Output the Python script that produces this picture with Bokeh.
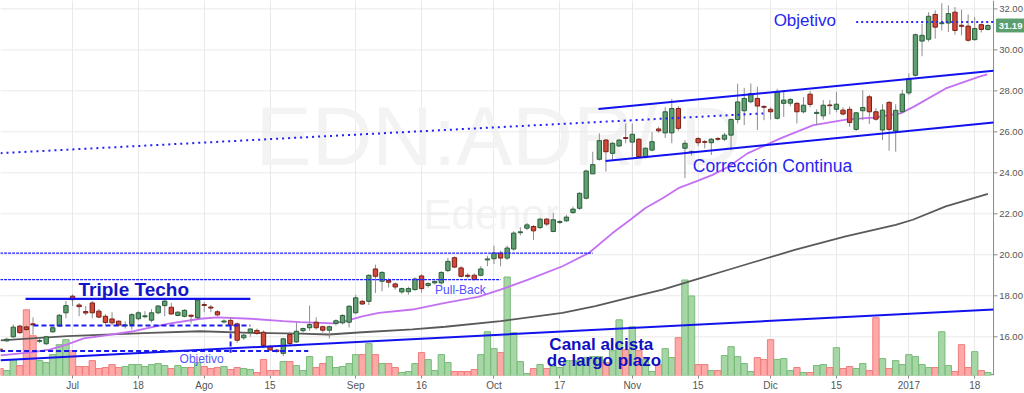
import pandas as pd
from bokeh.plotting import figure
from bokeh.models import Range1d, FixedTicker, Label, ColumnDataSource
from bokeh.core.properties import value
from bokeh.embed import file_html
from bokeh.resources import INLINE

# ---------------- data ----------------
holidays = ["2016-07-04", "2016-09-05", "2016-11-24", "2016-12-26", "2017-01-02", "2017-01-16"]
dates = [d.strftime("%Y-%m-%d") for d in pd.bdate_range("2016-06-16", "2017-01-20")
         if d.strftime("%Y-%m-%d") not in holidays]

opens = [15.40, 15.80, 16.00, 16.52, 16.48, 16.63, 15.78, 15.66, 16.24, 16.52,
         17.17, 17.98, 17.55, 17.23, 17.65, 17.25, 17.00, 16.87, 16.76, 16.53,
         16.60, 16.88, 16.98, 16.81, 17.17, 17.52, 17.44, 17.04, 17.00, 17.05,
         16.93, 17.57, 17.45, 17.22, 16.72, 16.80, 16.63, 15.95, 16.20, 16.31,
         16.22, 15.51, 15.35, 15.19, 16.11, 15.75, 16.30, 16.44, 16.71, 16.49,
         16.32, 16.65, 16.68, 16.71, 17.17, 17.73, 17.73, 19.31, 18.71, 18.75,
         18.58, 18.19, 18.20, 18.30, 18.97, 18.50, 18.63, 18.63, 19.23, 19.86,
         19.36, 19.00, 19.00, 19.00, 19.75, 19.81, 20.09, 19.84, 20.28, 21.08,
         21.30, 21.38, 21.33, 21.74, 21.14, 21.58, 21.66, 22.06, 22.27, 22.76,
         23.95, 24.66, 25.60, 24.95, 25.31, 25.72, 25.50, 25.64, 24.76, 25.11,
         26.14, 25.95, 25.95, 27.14, 25.20, 25.00, 25.67, 25.52, 25.47, 25.67,
         25.64, 25.84, 26.60, 27.03, 27.47, 27.63, 27.24, 27.10, 26.66, 27.39,
         27.40, 27.39, 26.98, 27.84, 26.90, 26.78, 27.31, 27.10, 27.06, 27.10,
         26.12, 27.03, 27.71, 26.98, 26.09, 27.44, 26.04, 26.98, 27.90, 28.76,
         30.43, 30.52, 31.73, 31.28, 31.31, 31.84, 31.20, 31.16, 30.50, 31.23,
         31.00]
highs = [15.45, 15.95, 16.60, 16.58, 16.55, 16.95, 15.90, 16.05, 16.50, 17.10,
         17.75, 18.07, 17.65, 17.50, 17.75, 17.35, 17.10, 17.20, 16.80, 16.75,
         17.15, 17.25, 17.25, 17.35, 17.55, 17.85, 17.65, 17.25, 17.35, 17.10,
         17.85, 17.70, 17.55, 17.30, 16.85, 16.95, 16.70, 16.15, 16.40, 16.40,
         16.30, 15.60, 15.40, 15.95, 16.25, 16.68, 16.45, 17.52, 16.95, 16.55,
         16.55, 16.85, 17.10, 17.55, 18.05, 17.80, 19.05, 19.52, 19.20, 18.85,
         18.65, 18.40, 18.45, 18.90, 19.05, 18.65, 18.75, 19.20, 19.85, 19.92,
         19.45, 19.10, 19.10, 19.45, 19.95, 20.44, 20.20, 20.45, 21.15, 21.35,
         21.55, 21.45, 21.80, 21.80, 22.05, 21.70, 21.95, 22.35, 23.05, 24.15,
         25.03, 25.93, 25.65, 25.50, 25.65, 26.41, 26.41, 25.70, 25.25, 26.00,
         26.25, 27.20, 27.60, 27.25, 25.60, 25.10, 25.75, 25.60, 25.70, 25.75,
         25.95, 26.65, 28.35, 28.15, 28.36, 28.20, 27.30, 27.20, 28.10, 28.03,
         27.65, 27.45, 27.70, 28.00, 27.10, 27.55, 27.55, 27.95, 27.20, 27.25,
         26.95, 28.03, 27.80, 27.15, 27.35, 27.50, 27.35, 28.05, 28.85, 30.80,
         31.28, 31.84, 31.93, 32.28, 32.17, 32.09, 31.96, 31.73, 31.60, 31.30,
         31.25]
lows = [15.30, 15.75, 15.95, 16.15, 16.30, 16.10, 15.70, 15.60, 16.20, 16.50,
        16.90, 17.50, 17.00, 17.05, 16.90, 16.90, 16.60, 16.55, 16.50, 16.40,
        16.35, 16.80, 16.90, 16.70, 17.10, 17.00, 17.10, 17.00, 16.95, 16.65,
        16.85, 17.20, 17.20, 17.00, 16.65, 16.40, 15.71, 15.85, 16.00, 16.10,
        15.45, 15.30, 15.22, 15.05, 15.55, 15.70, 16.20, 16.30, 16.35, 16.20,
        15.92, 16.55, 16.60, 16.45, 17.10, 17.55, 17.55, 18.14, 18.22, 18.40,
        18.30, 18.10, 18.05, 18.25, 18.15, 18.40, 18.55, 18.55, 19.15, 19.35,
        18.90, 18.85, 18.75, 18.95, 19.45, 19.55, 19.44, 19.75, 20.20, 20.95,
        21.20, 20.73, 21.25, 21.40, 21.10, 21.50, 21.60, 22.00, 22.20, 22.70,
        23.98, 24.60, 24.06, 24.65, 25.25, 25.44, 24.78, 24.75, 24.70, 25.05,
        25.95, 25.70, 25.44, 26.05, 23.74, 24.85, 25.30, 25.20, 24.87, 25.55,
        25.55, 25.10, 26.41, 26.33, 27.39, 26.09, 26.57, 26.60, 26.60, 26.73,
        27.25, 26.41, 26.90, 27.20, 26.33, 26.60, 26.85, 26.95, 26.80, 26.25,
        26.05, 26.57, 26.38, 26.55, 25.60, 25.08, 25.03, 26.90, 27.80, 28.70,
        29.69, 30.40, 30.55, 30.95, 30.87, 30.74, 30.71, 30.40, 30.45, 30.85,
        30.95]
closes = [15.33, 15.88, 16.47, 16.20, 16.35, 16.58, 15.82, 16.00, 16.44, 17.05,
          17.52, 17.81, 17.47, 17.16, 17.17, 16.96, 16.70, 16.68, 16.57, 16.58,
          17.08, 17.17, 17.02, 17.17, 17.50, 17.74, 17.11, 17.20, 17.29, 17.00,
          17.79, 17.53, 17.40, 17.07, 16.77, 16.56, 15.83, 16.08, 16.38, 16.16,
          15.58, 15.35, 15.28, 15.90, 15.67, 16.27, 16.40, 16.60, 16.44, 16.32,
          16.49, 16.78, 17.04, 17.49, 17.90, 17.60, 19.00, 18.95, 19.14, 18.66,
          18.43, 18.35, 18.35, 18.82, 18.35, 18.60, 18.70, 19.14, 19.68, 19.40,
          18.95, 18.95, 18.79, 19.31, 19.80, 20.09, 19.84, 20.33, 21.06, 21.12,
          21.46, 21.17, 21.74, 21.50, 21.71, 21.62, 21.84, 22.23, 23.00, 24.09,
          24.40, 25.57, 25.03, 25.44, 25.60, 25.68, 25.88, 24.79, 25.20, 25.52,
          26.05, 26.98, 27.14, 26.17, 25.44, 25.03, 25.47, 25.49, 25.64, 25.64,
          25.84, 26.60, 27.46, 27.63, 27.87, 27.26, 27.20, 26.98, 27.95, 27.55,
          27.58, 26.98, 27.30, 27.34, 26.95, 27.30, 27.28, 27.35, 26.87, 26.46,
          26.93, 27.19, 26.98, 26.62, 27.06, 26.12, 27.05, 27.84, 28.60, 30.74,
          30.71, 31.64, 31.11, 31.32, 31.77, 30.95, 31.15, 30.47, 31.04, 31.00,
          31.19]
volumes = [70, 50, 160, 100, 660, 400, 150, 130, 210, 310,
           360, 250, 90, 90, 150, 70, 80, 110, 80, 90,
           110, 110, 90, 110, 120, 100, 70, 100, 80, 80,
           130, 90, 70, 80, 90, 60, 80, 70, 60, 30,
           160, 50, 50, 140, 140, 100, 50, 190, 80, 120,
           190, 80, 90, 120, 210, 210, 320, 210, 120, 120,
           80, 30, 40, 120, 230, 160, 50, 210, 130, 40,
           40, 40, 60, 210, 440, 270, 230, 990, 430, 140,
           20, 70, 110, 70, 90, 80, 150, 150, 150, 180,
           190, 190, 130, 250, 560, 260, 490, 250, 160, 40,
           110, 270, 180, 380, 960, 800, 110, 110, 50, 50,
           200, 290, 190, 120, 40, 180, 160, 360, 160, 170,
           50, 80, 30, 30, 100, 110, 80, 280, 70, 90,
           70, 120, 50, 580, 170, 70, 150, 110, 210, 190,
           110, 80, 80, 440, 100, 40, 310, 80, 240, 50,
           30]

# moving averages (trading-day index, price)
ma50_x = [0.06, 5.07, 7.65, 10.2, 12.7, 15.25, 20.3, 25.4, 30.4, 33.0, 38.0, 43.0, 45.6,
          50.6, 52.45, 55.0, 57.5, 62.6, 67.6, 72.6, 76.0, 80.2, 85.4, 89.4, 93.0, 95.7,
          98.0, 100.6, 103.0, 105.6, 108.2, 110.6, 113.5, 118.5, 123.5, 128.7, 132.6,
          136.7, 138.7, 143.6, 148.6, 149.9]
ma50_y = [15.09, 15.25, 15.38, 15.63, 15.92, 16.03, 16.27, 16.63, 16.88, 16.95, 16.88,
          16.76, 16.71, 16.65, 16.76, 17.00, 17.17, 17.33, 17.65, 17.95, 18.30, 18.79,
          19.44, 20.09, 21.06, 21.71, 22.28, 22.76, 23.25, 23.57, 23.90, 24.30, 24.95,
          25.68, 26.33, 26.61, 26.69, 26.90, 27.22, 28.12, 28.68, 28.81]
ma200_x = [0.06, 10.2, 22.8, 30.4, 38.0, 45.6, 49.9, 55.0, 62.6, 67.6, 76.0, 85.4, 90.4,
           95.4, 100.6, 105.6, 110.6, 114.0, 120.8, 128.4, 136.0, 138.6, 143.6, 148.6, 150.0]
ma200_y = [15.82, 16.03, 16.19, 16.27, 16.19, 16.15, 16.11, 16.22, 16.36, 16.49, 16.76,
           17.17, 17.49, 17.90, 18.30, 18.79, 19.27, 19.60, 20.25, 20.90, 21.46, 21.71,
           22.36, 22.84, 22.97]

tick_dates = ["2016-07-01", "2016-07-18", "2016-08-01", "2016-08-15", "2016-09-01",
              "2016-09-16", "2016-10-03", "2016-10-17", "2016-11-01", "2016-11-15",
              "2016-12-01", "2016-12-15", "2017-01-03", "2017-01-18"]
tick_labels = ["Jul", "18", "Ago", "15", "Sep", "16", "Oct", "17", "Nov", "15",
               "Dic", "15", "2017", "18"]
price_ticks = [16, 18, 20, 22, 24, 26, 28, 30, 32]

# drawn annotation lines: (x0, y0, x1, y1) in (trading-day index, price)
trend_dotted = (0.06, 24.96, 115.9, 26.90)
chan_upper = (90.87, 27.11, 150.85, 28.98)
chan_lower = (91.93, 24.58, 150.85, 26.46)
long_channel = (0.06, 14.86, 150.85, 17.33)
triple_top = (3.86, 17.85, 38.0, 17.85)
dash_upper = (5.07, 16.55, 38.0, 16.55)
dash_lower = (0.0, 15.30, 46.8, 15.30)
dash_vert = (35.0, 16.55, 35.0, 15.22)
level_20 = (0.0, 20.08, 90.0, 20.08)
level_188 = (0.0, 18.79, 76.0, 18.79)
target_top = (130.0, 31.36, 150.85, 31.36)

# ---------------- layout constants ----------------
X0, X1 = 0.061, 155.56          # frame spans the whole page width
AXIS_X = 150.86                  # price scale line position
Y0, Y1 = 14.11, 32.41

idx = list(range(len(dates)))
up = [c >= o for o, c in zip(opens, closes)]
src = ColumnDataSource(dict(
    x=idx, o=opens, h=highs, l=lows, c=closes, v=volumes,
    top=[max(o, c) for o, c in zip(opens, closes)],
    bot=[min(o, c) for o, c in zip(opens, closes)],
    fill=["#5f9f70" if u else "#d1493a" for u in up],
    edge=["#2b5e3a" if u else "#7a1f16" for u in up],
    vfill=["#a6d6a6" if u else "#ffa8a8" for u in up],
    vedge=["#78bb78" if u else "#f07c7c" for u in up],
))

p = figure(width=1024, height=393,
           x_range=Range1d(X0, X1), y_range=Range1d(Y0, Y1),
           output_backend="svg", toolbar_location=None, y_axis_location=None,
           min_border_left=0, min_border_top=0, min_border_right=0, min_border_bottom=16)
p.outline_line_color = None
p.background_fill_color = "white"
p.extra_y_ranges = {"vol": Range1d(0, 3770)}

tick_pos = [dates.index(d) for d in tick_dates]
p.xaxis.ticker = FixedTicker(ticks=tick_pos)
p.xaxis.major_label_overrides = {t: l for t, l in zip(tick_pos, tick_labels)}
ax = p.xaxis[0]
ax.major_label_text_font = "Liberation Sans"
ax.major_label_text_font_size = "10px"
ax.major_label_text_color = "#555555"
ax.axis_line_color = None
ax.major_tick_line_color = "#8a8a8a"
ax.minor_tick_line_color = None
ax.major_tick_in = 0
ax.major_tick_out = 3
ax.major_label_standoff = 1
p.xgrid.grid_line_color = "#e9e9e9"
p.ygrid.grid_line_color = None

# horizontal grid + price scale drawn inside the frame
p.segment(x0=[X0] * len(price_ticks), y0=price_ticks, x1=[AXIS_X] * len(price_ticks),
          y1=price_ticks, line_color="#e9e9e9", line_width=1)
p.segment(x0=[AXIS_X] * len(price_ticks), y0=price_ticks, x1=[AXIS_X + 0.6] * len(price_ticks),
          y1=price_ticks, line_color="#8a8a8a", line_width=1)
p.segment(x0=[AXIS_X], y0=[Y0], x1=[AXIS_X], y1=[Y1], line_color="#8a8a8a", line_width=1)
p.segment(x0=[X0], y0=[Y0 + 0.04], x1=[AXIS_X], y1=[Y0 + 0.04], line_color="#8a8a8a",
          line_width=1.2)
p.text(x=[AXIS_X + 0.85] * len(price_ticks), y=price_ticks,
       text=[f"{t:.2f}" for t in price_ticks], text_font=value("Liberation Sans"),
       text_font_size="9.5px", text_color="#555555", text_baseline="middle", text_align="left")

# watermark
p.add_layout(Label(x=38.8, y=23.5, text="EDN:ADR/ D", text_font="Liberation Sans",
                   text_font_size="84px", text_color="#f3f3f3", level="underlay"))
p.add_layout(Label(x=64.3, y=20.83, text="Edenor", text_font="Liberation Sans",
                   text_font_size="42px", text_color="#f3f3f3", level="underlay"))

# volume
p.vbar(x="x", width=0.96, top="v", bottom=0, source=src, y_range_name="vol",
       fill_color="vfill", line_color="vedge", line_width=1)

# moving averages
p.line(ma200_x, ma200_y, line_color="#5a5a5a", line_width=1.8)
p.line(ma50_x, ma50_y, line_color="#c370f2", line_width=1.8)

# candles
p.segment(x0="x", y0="l", x1="x", y1="h", source=src, line_color="#8d8d8d", line_width=1)
p.vbar(x="x", width=0.66, top="top", bottom="bot", source=src,
       fill_color="fill", line_color="edge", line_width=1)

def seg(t, **kw):
    p.line([t[0], t[2]], [t[1], t[3]], **kw)

seg(trend_dotted, line_color="#2121f5", line_width=2, line_dash="2 4")
seg(chan_upper, line_color="#1212ee", line_width=2)
seg(chan_lower, line_color="#1212ee", line_width=2)
seg(long_channel, line_color="#1212ee", line_width=2)
seg(triple_top, line_color="#1212ee", line_width=2.2)
seg(dash_upper, line_color="#1a1aee", line_width=2, line_dash="5 3")
seg(dash_lower, line_color="#1a1aee", line_width=2, line_dash="5 3")
seg(dash_vert, line_color="#1a1aee", line_width=2, line_dash="5 3")
seg(level_20, line_color="#1f1fff", line_width=1.2, line_dash="3 1")
seg(level_188, line_color="#1f1fff", line_width=1.2, line_dash="3 1")
seg(target_top, line_color="#2b2bf5", line_width=2, line_dash="2 3")

# texts
def lab(x, y, text, size, color, bold=False):
    p.add_layout(Label(x=x, y=y, text=text, text_font="Liberation Sans",
                       text_font_size=size, text_color=color,
                       text_font_style="bold" if bold else "normal",
                       text_align="center", text_baseline="middle"))

lab(20.3, 18.30, "Triple Techo", "19px", "#1414c4", True)
lab(30.6, 14.90, "Objetivo", "12px", "#5656ff")
lab(69.9, 18.28, "Pull-Back", "12px", "#5050ff")
lab(117.3, 24.34, "Corrección Continua", "17.5px", "#2626f0")
lab(122.2, 31.44, "Objetivo", "17px", "#2626f0")
lab(91.3, 15.63, "Canal alcista", "17px", "#1010c0", True)
lab(91.7, 14.82, "de largo plazo", "17px", "#1010c0", True)

# last price tag on the price scale
p.rect(x=[153.44], y=[closes[-1]], width=4.25, height=0.63, fill_color="#5c9e6e",
       line_color="#5c9e6e")
p.text(x=[153.44], y=[closes[-1]], text=[f"{closes[-1]:.2f}"], text_font=value("Liberation Sans"),
       text_font_size="9.5px", text_font_style="bold", text_color="white",
       text_align="center", text_baseline="middle")

open("out.html", "w").write(file_html(p, INLINE))
